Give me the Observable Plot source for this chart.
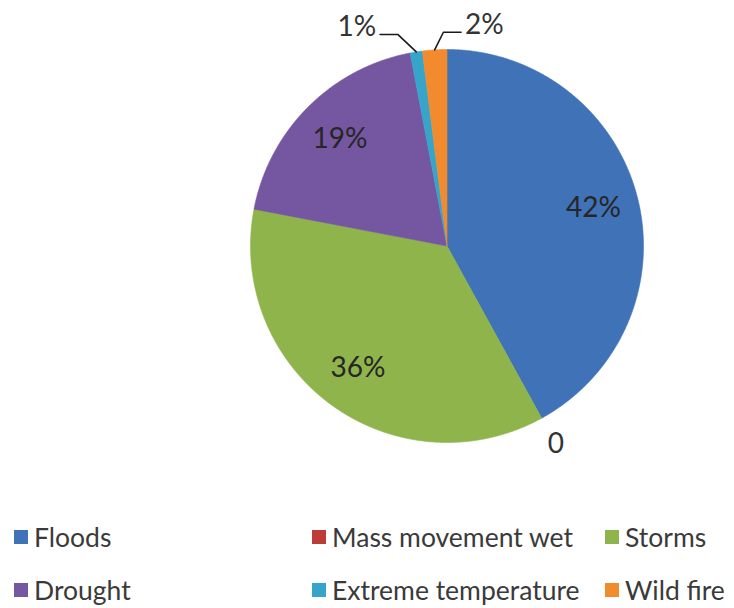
<!DOCTYPE html>
<html>
<head>
<meta charset="utf-8">
<script src="https://cdn.jsdelivr.net/npm/d3@7"></script>
<script src="https://cdn.jsdelivr.net/npm/@observablehq/plot@0.6"></script>
<style>
  body { margin: 0; background: #fff; font-family: Lato, "Open Sans", sans-serif; }
  #chart { position: relative; width: 734px; height: 608px; }
  #chart svg { position: absolute; left: 0; top: 0; }
  .legend { position: absolute; left: 0; top: 510px; width: 734px; height: 98px; }
  .item { position: absolute; height: 30px; display: flex; align-items: center;
          font-size: 26.5px; color: #3a3a3a; white-space: nowrap; }
  .sw { width: 14px; height: 14px; margin-right: 6px; flex: none; }
</style>
</head>
<body>
<div id="chart"></div>
<script>
// Disaster types and their share of events (%)
const categories = ["Floods", "Mass movement wet", "Storms", "Drought", "Extreme temperature", "Wild fire"];
const shares = [42, 0, 36, 19, 1, 2];
const labels = ["42%", "0", "36%", "19%", "1%", "2%"];
const colors = ["#3F72B6", "#BE3C37", "#90B44C", "#7557A1", "#36A5C9", "#F28A2E"];

// Label placement (in pie radii)
const insideRadius = 0.77;
const outsideRadius = 1.15;
const calloutRadius = 1.09;
const calloutArm = 0.09;
// horizontal spread for the crowded small slices at the top (sign = side of the label)
const calloutShift = { "Extreme temperature": -0.08, "Wild fire": 0.05 };

const rows = categories.map((c, i) => ({ cat: c, share: shares[i], label: labels[i], color: colors[i] }));
const arcs = d3.pie().sort(null).value(d => d.share)(rows);

// unit-circle coordinates, angle clockwise from 12 o'clock
const pt = (a, r) => [r * Math.sin(a), r * Math.cos(a)];

// slice outlines
const slicePts = [];
for (const a of arcs) {
  if (a.endAngle - a.startAngle <= 0) continue;
  const n = Math.max(2, Math.ceil((a.endAngle - a.startAngle) / (Math.PI / 720)));
  slicePts.push({ cat: a.data.cat, x: 0, y: 0 });
  for (let k = 0; k <= n; k++) {
    const t = a.startAngle + (a.endAngle - a.startAngle) * k / n;
    const [x, y] = pt(t, 1);
    slicePts.push({ cat: a.data.cat, x, y });
  }
  slicePts.push({ cat: a.data.cat, x: 0, y: 0 });
}

const mid = a => (a.startAngle + a.endAngle) / 2;
const inside = arcs.filter(a => a.data.share >= 5).map(a => {
  const [x, y] = pt(mid(a), insideRadius);
  return { x, y, label: a.data.label };
});
const outsidePlain = arcs.filter(a => a.data.share < 5 && !(a.data.cat in calloutShift)).map(a => {
  const [x, y] = pt(mid(a), outsideRadius);
  return { x, y, label: a.data.label };
});

const leaders = [];
const callouts = [];
for (const a of arcs) {
  const s = calloutShift[a.data.cat];
  if (s === undefined) continue;
  const [ex, ey] = pt(mid(a), 1);
  const [bx0, by] = pt(mid(a), calloutRadius);
  const bx = bx0 + s;
  const side = Math.sign(s);
  const tx = bx + side * calloutArm;
  leaders.push({ cat: a.data.cat, x: ex, y: ey }, { cat: a.data.cat, x: bx, y: by }, { cat: a.data.cat, x: tx, y: by });
  callouts.push({ x: tx, y: by, label: a.data.label, side });
}

const font = "Lato, 'Open Sans', sans-serif";
const chart = Plot.plot({
  width: 734,
  height: 510,
  marginLeft: 250,
  marginRight: 91,
  marginTop: 49,
  marginBottom: 68,
  x: { domain: [-1, 1], axis: null },
  y: { domain: [-1, 1], axis: null },
  color: { domain: categories, range: colors },
  style: { fontFamily: font, background: "#fff" },
  marks: [
    Plot.line(slicePts, { x: "x", y: "y", z: "cat", fill: "cat", stroke: "cat", strokeWidth: 0.6, curve: "linear" }),
    Plot.text(inside, { x: "x", y: "y", text: "label", fontSize: 28, fill: "#262626" }),
    Plot.text(outsidePlain, { x: "x", y: "y", text: "label", fontSize: 28, fill: "#333" }),
    Plot.line(leaders, { x: "x", y: "y", z: "cat", stroke: "#1a1a1a", strokeWidth: 1.6 }),
    Plot.text(callouts.filter(d => d.side < 0), { x: "x", y: "y", text: "label", textAnchor: "end", dx: -4, dy: -7, fontSize: 28, fill: "#333" }),
    Plot.text(callouts.filter(d => d.side > 0), { x: "x", y: "y", text: "label", textAnchor: "start", dx: 4, dy: -7, fontSize: 28, fill: "#333" })
  ]
});

const root = document.getElementById("chart");
root.appendChild(chart);

// legend below the pie: three columns, two rows
const legendCols = [14, 312, 605];
const legendRows = [12, 65];
const legend = document.createElement("div");
legend.className = "legend";
rows.forEach((d, i) => {
  const item = document.createElement("div");
  item.className = "item";
  item.style.left = legendCols[i % 3] + "px";
  item.style.top = legendRows[Math.floor(i / 3)] + "px";
  const sw = document.createElement("span");
  sw.className = "sw";
  sw.style.background = d.color;
  const tx = document.createElement("span");
  tx.textContent = d.cat;
  item.appendChild(sw);
  item.appendChild(tx);
  legend.appendChild(item);
});
root.appendChild(legend);
</script>
</body>
</html>
